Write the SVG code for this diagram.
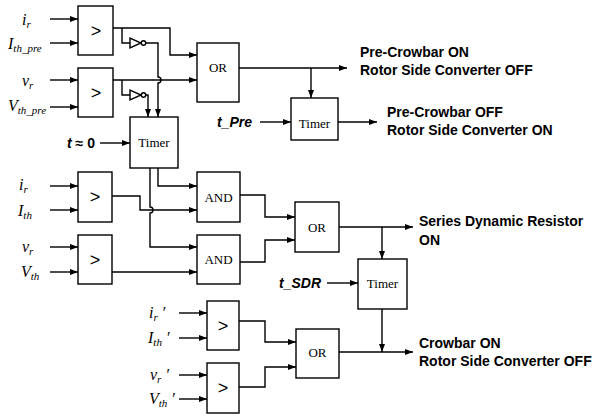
<svg xmlns="http://www.w3.org/2000/svg" width="592" height="417" viewBox="0 0 592 417">
<style>
.box{fill:#fff;stroke:#000;stroke-width:1.4}
.w{fill:none;stroke:#000;stroke-width:1.4}
.wa{fill:none;stroke:#000;stroke-width:1.4;marker-end:url(#a)}
.g{font-family:"Liberation Serif",serif;font-size:13px;text-anchor:middle}
.cmp{font-family:"Liberation Sans",sans-serif;font-size:18px;text-anchor:middle}
.out{font-family:"Liberation Sans",Arial,sans-serif;font-size:14px;font-weight:bold}
.in{font-family:"Liberation Serif",serif;font-size:16px;font-style:italic}
.sub{font-size:11px}
.t{font-family:"Liberation Sans",Arial,sans-serif;font-size:14px;font-weight:bold;font-style:italic}
</style>
<defs>
<marker id="a" markerWidth="8" markerHeight="6" refX="8" refY="3" orient="auto" markerUnits="userSpaceOnUse"><path d="M0,0 L8,3 L0,6 z" fill="#000"/></marker>
</defs>
<rect width="592" height="417" fill="#fff"/>
<g id="connectors">
<path class="wa" d="M50,19 H78"/><path class="wa" d="M50,43 H78"/>
<path class="wa" d="M50,80 H78"/><path class="wa" d="M50,107 H78"/>
<path class="wa" d="M50,186 H78"/><path class="wa" d="M50,210 H78"/>
<path class="wa" d="M50,247 H78"/><path class="wa" d="M50,272 H78"/>
<path class="wa" d="M179,313 H207"/><path class="wa" d="M179,338 H207"/>
<path class="wa" d="M179,375 H207"/><path class="wa" d="M179,399 H207"/>
<path class="wa" d="M113,28 H170 V55 H197"/>
<path class="w" d="M122,28 V43 H130"/>
<path class="wa" d="M146,43 H158 V77 A3,3 0 0 1 158,83 V117"/>
<path class="wa" d="M113,80 H197"/>
<path class="w" d="M122,80 V95 H130"/>
<path class="wa" d="M146,95 H148 V117"/>
<path class="wa" d="M100,143 H130"/>
<path class="wa" d="M158,168 V186 H197"/>
<path class="wa" d="M150,168 V207 A3,3 0 0 1 150,213 V247 H197"/>
<path class="wa" d="M112,196 H140 V210 H197"/>
<path class="wa" d="M112,272 H197"/>
<path class="wa" d="M240,195 H265 V217 H295"/>
<path class="wa" d="M240,262 H265 V240 H295"/>
<path class="wa" d="M339,227 H413"/>
<path class="wa" d="M382,227 V259"/>
<path class="wa" d="M327,283 H358"/>
<path class="wa" d="M382,309 V352"/>
<path class="wa" d="M239,321 H265 V342 H296"/>
<path class="wa" d="M239,387 H265 V367 H296"/>
<path class="wa" d="M339,352 H413"/>
<path class="wa" d="M239,68 H347"/>
<path class="wa" d="M311,68 V98"/>
<path class="wa" d="M260,122 H291"/>
<path class="wa" d="M338,122 H377"/>
</g>
<g id="not1"><polygon class="box" points="130,38 130,48 141,43"/><circle class="box" cx="143.5" cy="43" r="2.2"/></g>
<g id="not2"><polygon class="box" points="130,90 130,100 141,95"/><circle class="box" cx="143.5" cy="95" r="2.2"/></g>
<g id="cmp1"><rect class="box" x="78" y="6" width="35" height="49"/><text class="cmp" x="96" y="37">&gt;</text></g>
<g id="cmp2"><rect class="box" x="78" y="68" width="35" height="49"/><text class="cmp" x="96" y="99">&gt;</text></g>
<g id="cmp3"><rect class="box" x="78" y="172" width="34" height="50"/><text class="cmp" x="95" y="203">&gt;</text></g>
<g id="cmp4"><rect class="box" x="78" y="235" width="34" height="49"/><text class="cmp" x="95" y="266">&gt;</text></g>
<g id="cmp5"><rect class="box" x="207" y="301" width="32" height="49"/><text class="cmp" x="223" y="332">&gt;</text></g>
<g id="cmp6"><rect class="box" x="207" y="363" width="32" height="50"/><text class="cmp" x="223" y="394">&gt;</text></g>
<g id="or1"><rect class="box" x="197" y="43" width="42" height="59"/><text class="g" x="218" y="72">OR</text></g>
<g id="timer1"><rect class="box" x="130" y="117" width="48" height="51"/><text class="g" x="154" y="147">Timer</text></g>
<g id="timer2"><rect class="box" x="291" y="98" width="47" height="42"/><text class="g" x="314.5" y="128">Timer</text></g>
<g id="and1"><rect class="box" x="197" y="172" width="43" height="50"/><text class="g" x="218.5" y="202">AND</text></g>
<g id="and2"><rect class="box" x="197" y="235" width="43" height="49"/><text class="g" x="218.5" y="264">AND</text></g>
<g id="or2"><rect class="box" x="295" y="202" width="44" height="50"/><text class="g" x="317" y="232">OR</text></g>
<g id="timer3"><rect class="box" x="358" y="259" width="49" height="50"/><text class="g" x="382.5" y="288">Timer</text></g>
<g id="or3"><rect class="box" x="296" y="329" width="43" height="49"/><text class="g" x="317.5" y="357">OR</text></g>
<g id="inputs">
<text class="in" x="22" y="25">i<tspan class="sub" dy="3">r</tspan></text>
<text class="in" x="8" y="49">I<tspan class="sub" dy="3">th_pre</tspan></text>
<text class="in" x="22" y="86">v<tspan class="sub" dy="3">r</tspan></text>
<text class="in" x="8" y="111">V<tspan class="sub" dy="3">th_pre</tspan></text>
<text class="in" x="19" y="190">i<tspan class="sub" dy="3">r</tspan></text>
<text class="in" x="18" y="216">I<tspan class="sub" dy="3">th</tspan></text>
<text class="in" x="22" y="252">v<tspan class="sub" dy="3">r</tspan></text>
<text class="in" x="21" y="277">V<tspan class="sub" dy="3">th</tspan></text>
<text class="in" x="149" y="318">i<tspan class="sub" dy="3">r</tspan><tspan dy="-3"> ′</tspan></text>
<text class="in" x="148" y="343">I<tspan class="sub" dy="3">th</tspan><tspan dy="-3"> ′</tspan></text>
<text class="in" x="150" y="380">v<tspan class="sub" dy="3">r</tspan><tspan dy="-3"> ′</tspan></text>
<text class="in" x="149" y="404">V<tspan class="sub" dy="3">th</tspan><tspan dy="-3"> ′</tspan></text>
<text class="t" x="67" y="148">t <tspan font-style="normal">≈ 0</tspan></text>
<text class="t" x="217" y="127">t_Pre</text>
<text class="t" x="279" y="288">t_SDR</text>
</g>
<g id="outputs">
<text class="out" x="360" y="57">Pre-Crowbar ON</text>
<text class="out" x="360" y="75">Rotor Side Converter OFF</text>
<text class="out" x="387" y="117">Pre-Crowbar OFF</text>
<text class="out" x="387" y="135">Rotor Side Converter ON</text>
<text class="out" x="419" y="226">Series Dynamic Resistor</text>
<text class="out" x="419" y="245">ON</text>
<text class="out" x="419" y="348">Crowbar ON</text>
<text class="out" x="419" y="366">Rotor Side Converter OFF</text>
</g>
</svg>
